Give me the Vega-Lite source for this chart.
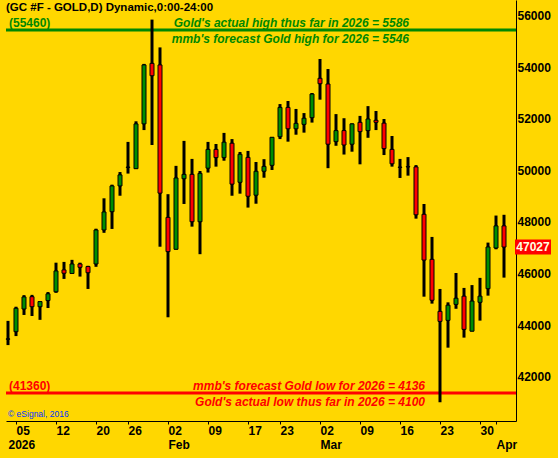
{
  "$schema": "https://vega.github.io/schema/vega-lite/v6.json",
  "width": 510,
  "height": 421,
  "autosize": {"type": "none"},
  "padding": {"left": 6, "top": 0, "right": 42, "bottom": 37},
  "background": "#FFD700",
  "config": {"view": {"stroke": null}},
  "layer": [
    {
      "data": {"values": [{}]},
      "mark": {"type": "rule", "color": "#008800", "strokeWidth": 3},
      "encoding": {"y": {"datum": 55460, "type": "quantitative"}}
    },
    {
      "data": {"values": [{}]},
      "mark": {"type": "rule", "color": "#FF0000", "strokeWidth": 3},
      "encoding": {"y": {"datum": 41360, "type": "quantitative"}}
    },
    {
      "data": {"name": "gold"},
      "mark": {"type": "rule", "color": "black", "strokeWidth": 3},
      "encoding": {
        "x": {"field": "date", "type": "ordinal", "scale": {"type": "point", "padding": 0.875, "align": 0.142857},
          "axis": {"orient": "bottom", "title": null, "values": ["2026-01-05","2026-01-12","2026-01-20","2026-01-26","2026-02-02","2026-02-09","2026-02-17","2026-02-23","2026-03-02","2026-03-09","2026-03-16","2026-03-23","2026-03-30","2026-04-01"],
            "labelExpr": "datum.value == '2026-04-01' ? '' : slice(datum.value, 8, 10)",
            "labelAngle": 0, "labelAlign": "left", "labelOverlap": false, "tickSize": 3, "tickColor": "black", "domainColor": "black", "domainWidth": 1,
            "labelFont": "Liberation Sans", "labelFontSize": 12, "labelFontWeight": "bold", "labelColor": "black", "labelPadding": 1, "grid": false}},
        "y": {"field": "low", "type": "quantitative", "scale": {"domain": [40272, 56621], "nice": false, "zero": false},
          "axis": {"orient": "right", "title": null, "values": [42000,44000,46000,48000,50000,52000,54000,56000], "format": "d", "ticks": false, "grid": false,
            "domainColor": "black", "labelFont": "Liberation Sans", "labelFontSize": 12, "labelFontWeight": "bold", "labelColor": "black", "labelPadding": 1}},
        "y2": {"field": "high"}
      }
    },
    {
      "data": {"name": "gold"},
      "mark": {"type": "bar", "size": 4, "stroke": "black", "strokeWidth": 1},
      "encoding": {
        "x": {"field": "date", "type": "ordinal",
          "axis": {"orient": "bottom", "title": null, "values": ["2026-01-02","2026-02-02","2026-03-02","2026-04-01"],
            "labelExpr": "datum.value == '2026-01-02' ? '2026' : datum.value == '2026-02-02' ? 'Feb' : datum.value == '2026-03-02' ? 'Mar' : 'Apr'",
            "labelAngle": 0, "labelAlign": "left", "labelOverlap": false, "ticks": false, "domain": false,
            "labelFont": "Liberation Sans", "labelFontSize": 12, "labelFontWeight": "bold", "labelColor": "black", "labelPadding": 18, "grid": false}},
        "y": {"field": "open", "type": "quantitative"},
        "y2": {"field": "close"},
        "fill": {"condition": {"test": "datum.close >= datum.open", "value": "#008C00"}, "value": "#FF0000"}
      }
    },
    {
      "data": {"values": [{}]},
      "mark": {"type": "text", "align": "left", "baseline": "middle", "dx": -2, "font": "Liberation Sans", "fontSize": 11.5, "fontWeight": "bold", "color": "black"},
      "encoding": {"x": {"datum": "2026-01-02", "type": "ordinal", "axis": null}, "y": {"datum": 56310, "type": "quantitative"}, "text": {"value": "(GC #F - GOLD,D) Dynamic,0:00-24:00"}}
    },
    {
      "data": {"values": [{}]},
      "mark": {"type": "text", "align": "left", "baseline": "middle", "dx": 1, "dy": -7, "font": "Liberation Sans", "fontSize": 12, "fontWeight": "bold", "color": "#008800"},
      "encoding": {"x": {"datum": "2026-01-02", "type": "ordinal", "axis": null}, "y": {"datum": 55460, "type": "quantitative"}, "text": {"value": "(55460)"}}
    },
    {
      "data": {"values": [{}]},
      "mark": {"type": "text", "align": "right", "baseline": "middle", "dx": 1, "dy": -7, "font": "Liberation Sans", "fontSize": 12, "fontWeight": "bold", "fontStyle": "italic", "color": "#008800"},
      "encoding": {"x": {"datum": "2026-03-17", "type": "ordinal", "axis": null}, "y": {"datum": 55460, "type": "quantitative"}, "text": {"value": "Gold's actual high thus far in 2026 = 5586"}}
    },
    {
      "data": {"values": [{}]},
      "mark": {"type": "text", "align": "right", "baseline": "middle", "dx": 1, "dy": 9, "font": "Liberation Sans", "fontSize": 12, "fontWeight": "bold", "fontStyle": "italic", "color": "#008800"},
      "encoding": {"x": {"datum": "2026-03-17", "type": "ordinal", "axis": null}, "y": {"datum": 55460, "type": "quantitative"}, "text": {"value": "mmb's forecast Gold high for 2026 = 5546"}}
    },
    {
      "data": {"values": [{}]},
      "mark": {"type": "text", "align": "left", "baseline": "middle", "dx": 1, "dy": -7, "font": "Liberation Sans", "fontSize": 12, "fontWeight": "bold", "color": "#FF0000"},
      "encoding": {"x": {"datum": "2026-01-02", "type": "ordinal", "axis": null}, "y": {"datum": 41360, "type": "quantitative"}, "text": {"value": "(41360)"}}
    },
    {
      "data": {"values": [{}]},
      "mark": {"type": "text", "align": "right", "baseline": "middle", "dx": 1, "dy": -7, "font": "Liberation Sans", "fontSize": 12, "fontWeight": "bold", "fontStyle": "italic", "color": "#FF0000"},
      "encoding": {"x": {"datum": "2026-03-19", "type": "ordinal", "axis": null}, "y": {"datum": 41360, "type": "quantitative"}, "text": {"value": "mmb's forecast Gold low for 2026 = 4136"}}
    },
    {
      "data": {"values": [{}]},
      "mark": {"type": "text", "align": "right", "baseline": "middle", "dx": 1, "dy": 9, "font": "Liberation Sans", "fontSize": 12, "fontWeight": "bold", "fontStyle": "italic", "color": "#FF0000"},
      "encoding": {"x": {"datum": "2026-03-19", "type": "ordinal", "axis": null}, "y": {"datum": 41360, "type": "quantitative"}, "text": {"value": "Gold's actual low thus far in 2026 = 4100"}}
    },
    {
      "data": {"values": [{}]},
      "mark": {"type": "text", "align": "left", "baseline": "middle", "dx": 0, "font": "Liberation Sans", "fontSize": 8.5, "color": "#0033FF"},
      "encoding": {"x": {"datum": "2026-01-02", "type": "ordinal", "axis": null}, "y": {"datum": 40545, "type": "quantitative"}, "text": {"value": "© eSignal, 2016"}}
    },
    {
      "data": {"values": [{}]},
      "mark": {"type": "tick", "orient": "horizontal", "color": "#FF0000", "size": 36, "thickness": 15, "xOffset": 29, "opacity": 1},
      "encoding": {"x": {"datum": "2026-04-02", "type": "ordinal", "axis": null}, "y": {"datum": 47027, "type": "quantitative"}}
    },
    {
      "data": {"values": [{}]},
      "mark": {"type": "text", "align": "center", "baseline": "middle", "dx": 29, "font": "Liberation Sans", "fontSize": 12, "fontWeight": "bold", "color": "#FFFFE0"},
      "encoding": {"x": {"datum": "2026-04-02", "type": "ordinal", "axis": null}, "y": {"datum": 47027, "type": "quantitative"}, "text": {"value": "47027"}}
    }
  ],
  "datasets": {"gold": [
    {"date": "2026-01-02", "open": 43450, "high": 44160, "low": 43220, "close": 43460},
    {"date": "2026-01-05", "open": 43740, "high": 44710, "low": 43570, "close": 44650},
    {"date": "2026-01-06", "open": 44620, "high": 45160, "low": 44390, "close": 45090},
    {"date": "2026-01-07", "open": 45100, "high": 45170, "low": 44350, "close": 44710},
    {"date": "2026-01-08", "open": 44710, "high": 44930, "low": 44200, "close": 44910},
    {"date": "2026-01-09", "open": 44950, "high": 45280, "low": 44660, "close": 45210},
    {"date": "2026-01-12", "open": 45290, "high": 46420, "low": 45250, "close": 46100},
    {"date": "2026-01-13", "open": 46140, "high": 46450, "low": 45790, "close": 46010},
    {"date": "2026-01-14", "open": 46000, "high": 46530, "low": 45990, "close": 46370},
    {"date": "2026-01-15", "open": 46370, "high": 46420, "low": 45880, "close": 46240},
    {"date": "2026-01-16", "open": 46270, "high": 46300, "low": 45400, "close": 46030},
    {"date": "2026-01-20", "open": 46370, "high": 47740, "low": 46260, "close": 47690},
    {"date": "2026-01-21", "open": 47690, "high": 48920, "low": 47580, "close": 48390},
    {"date": "2026-01-22", "open": 48400, "high": 49450, "low": 47730, "close": 49400},
    {"date": "2026-01-23", "open": 49400, "high": 49940, "low": 49020, "close": 49830},
    {"date": "2026-01-26", "open": 50120, "high": 51110, "low": 49880, "close": 50130},
    {"date": "2026-01-27", "open": 50070, "high": 51910, "low": 50060, "close": 51810},
    {"date": "2026-01-28", "open": 51810, "high": 54140, "low": 51570, "close": 54100},
    {"date": "2026-01-29", "open": 54160, "high": 55860, "low": 50990, "close": 53680},
    {"date": "2026-01-30", "open": 54100, "high": 54780, "low": 47040, "close": 49120},
    {"date": "2026-02-02", "open": 48180, "high": 49080, "low": 44300, "close": 46850},
    {"date": "2026-02-03", "open": 46940, "high": 50180, "low": 46930, "close": 49710},
    {"date": "2026-02-04", "open": 49680, "high": 51150, "low": 48700, "close": 49850},
    {"date": "2026-02-05", "open": 49850, "high": 50450, "low": 47820, "close": 48010},
    {"date": "2026-02-06", "open": 48010, "high": 49980, "low": 46750, "close": 49890},
    {"date": "2026-02-09", "open": 50090, "high": 51110, "low": 49920, "close": 50820},
    {"date": "2026-02-10", "open": 50820, "high": 51030, "low": 50150, "close": 50500},
    {"date": "2026-02-11", "open": 50500, "high": 51460, "low": 50380, "close": 51100},
    {"date": "2026-02-12", "open": 51060, "high": 51220, "low": 49020, "close": 49470},
    {"date": "2026-02-13", "open": 49540, "high": 50720, "low": 49100, "close": 50630},
    {"date": "2026-02-17", "open": 50510, "high": 50760, "low": 48560, "close": 49000},
    {"date": "2026-02-18", "open": 49040, "high": 50330, "low": 48710, "close": 49970},
    {"date": "2026-02-19", "open": 49970, "high": 50440, "low": 49720, "close": 50160},
    {"date": "2026-02-20", "open": 50200, "high": 51300, "low": 50020, "close": 51290},
    {"date": "2026-02-23", "open": 51310, "high": 52580, "low": 51220, "close": 52450},
    {"date": "2026-02-24", "open": 52450, "high": 52700, "low": 51120, "close": 51620},
    {"date": "2026-02-25", "open": 51620, "high": 52390, "low": 51390, "close": 51830},
    {"date": "2026-02-26", "open": 51790, "high": 52230, "low": 51470, "close": 52030},
    {"date": "2026-02-27", "open": 52050, "high": 53010, "low": 51860, "close": 52970},
    {"date": "2026-03-02", "open": 53580, "high": 54330, "low": 52750, "close": 53370},
    {"date": "2026-03-03", "open": 53360, "high": 53940, "low": 50090, "close": 51020},
    {"date": "2026-03-04", "open": 51120, "high": 52190, "low": 50960, "close": 51550},
    {"date": "2026-03-05", "open": 51550, "high": 52030, "low": 50620, "close": 50990},
    {"date": "2026-03-06", "open": 51020, "high": 51830, "low": 50730, "close": 51810},
    {"date": "2026-03-09", "open": 51870, "high": 52120, "low": 50240, "close": 51510},
    {"date": "2026-03-10", "open": 51550, "high": 52500, "low": 51270, "close": 52000},
    {"date": "2026-03-11", "open": 51950, "high": 52310, "low": 51570, "close": 51870},
    {"date": "2026-03-12", "open": 51840, "high": 52000, "low": 50600, "close": 50850},
    {"date": "2026-03-13", "open": 50820, "high": 51340, "low": 50150, "close": 50260},
    {"date": "2026-03-16", "open": 50130, "high": 50450, "low": 49710, "close": 50120},
    {"date": "2026-03-17", "open": 50150, "high": 50520, "low": 49800, "close": 50140},
    {"date": "2026-03-18", "open": 50140, "high": 50210, "low": 48130, "close": 48280},
    {"date": "2026-03-19", "open": 48300, "high": 48700, "low": 45100, "close": 46520},
    {"date": "2026-03-20", "open": 46550, "high": 47420, "low": 44830, "close": 44960},
    {"date": "2026-03-23", "open": 44530, "high": 45400, "low": 41000, "close": 44140},
    {"date": "2026-03-24", "open": 44180, "high": 44880, "low": 43120, "close": 44770},
    {"date": "2026-03-25", "open": 44800, "high": 46020, "low": 44630, "close": 45040},
    {"date": "2026-03-26", "open": 45120, "high": 45440, "low": 43510, "close": 43830},
    {"date": "2026-03-27", "open": 43760, "high": 45550, "low": 43750, "close": 44930},
    {"date": "2026-03-30", "open": 44880, "high": 45830, "low": 44170, "close": 45120},
    {"date": "2026-03-31", "open": 45410, "high": 47200, "low": 45140, "close": 47030},
    {"date": "2026-04-01", "open": 46990, "high": 48250, "low": 46940, "close": 47850},
    {"date": "2026-04-02", "open": 47850, "high": 48280, "low": 45840, "close": 47027}
  ]},
  "resolve": {"axis": {"x": "independent"}}
}
